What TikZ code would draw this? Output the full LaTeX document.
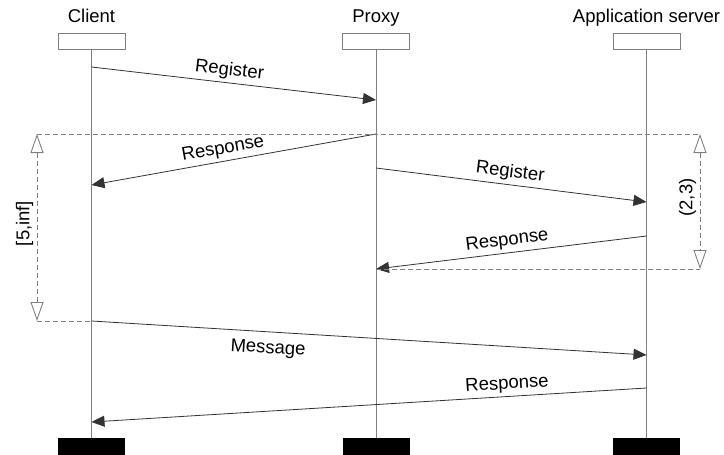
\documentclass[tikz,border=0pt]{standalone}
\usepackage{fontspec}
\setmainfont{Liberation Sans}
\usetikzlibrary{arrows.meta, positioning}

\begin{document}
\begin{tikzpicture}[x=1pt, y=-1pt, font=\fontsize{18.5}{22}\selectfont,
  headbox/.style={draw=gray, line width=0.9pt, minimum width=67pt, minimum height=16pt, inner sep=0pt},
  footbox/.style={fill=black, minimum width=67pt, minimum height=17pt, inner sep=0pt},
  life/.style={gray, line width=0.9pt},
  msg/.style={black!80, text=black, line width=0.8pt, -{Triangle[length=13pt, width=11pt]}},
  timer/.style={gray, text=black, line width=0.9pt, dash pattern=on 5pt off 3pt},
  timerarr/.style={timer, {Triangle[open, length=19pt, width=13pt]}-{Triangle[open, length=19pt, width=13pt]}}]
  \useasboundingbox (0,0) rectangle (724,455);

  % Participants
  \node[anchor=base] (client) at (91.5,23) {Client};
  \node[anchor=base] (proxy)  at (376,23) {Proxy};
  \node[anchor=base] (server) at (646.5,23) {Application server};
  \node[headbox] (cbox) at (91.5,41) {};
  \node[headbox] (pbox) at (376,41) {};
  \node[headbox] (sbox) at (646.5,41) {};
  \node[footbox] (cfoot) at (91.5,446.5) {};
  \node[footbox] (pfoot) at (376,446.5) {};
  \node[footbox] (sfoot) at (646.5,446.5) {};
  \draw[life] (cbox) -- (cfoot);
  \draw[life] (pbox) -- (pfoot);
  \draw[life] (sbox) -- (sfoot);

  % Points on the lifelines
  \coordinate (c1) at (91.5,67);   \coordinate (p1) at (376,100);
  \coordinate (p2) at (376,134);   \coordinate (c2) at (91.5,185);
  \coordinate (p3) at (376,168);   \coordinate (s3) at (646.5,202);
  \coordinate (s4) at (646.5,236); \coordinate (p4) at (376,269);
  \coordinate (c5) at (91.5,321);  \coordinate (s5) at (646.5,355);
  \coordinate (s6) at (646.5,388); \coordinate (c6) at (91.5,422);

  % Messages
  \draw[msg] (c1) -- node[sloped, above, pos=0.48] {Register} (p1);
  \draw[msg] (p2) -- node[sloped, above, pos=0.53] {Response} (c2);
  \draw[msg] (p3) -- node[sloped, above, pos=0.49] {Register} (s3);
  \draw[msg] (s4) -- node[sloped, above, pos=0.51] {Response} (p4);
  \draw[msg] (c5) -- node[sloped, below=5pt, pos=0.32] {Message} (s5);
  \draw[msg] (s6) -- node[sloped, above, pos=0.25] {Response} (c6);

  % Timers
  \coordinate (t1) at (37,134);  \coordinate (t2) at (37,321);
  \coordinate (t3) at (700,134); \coordinate (t4) at (700,269);
  \draw[timer] (t1) -- (t3);
  \draw[timer] (p4) -- (t4);
  \draw[timer] (t2) -- (c5);
  \draw[timerarr] (t1) -- node[midway, rotate=90, above=4pt] {[5,inf]} (t2);
  \draw[timerarr] (t3) -- node[midway, rotate=90, above=4pt] {(2,3)} (t4);
\end{tikzpicture}
\end{document}
